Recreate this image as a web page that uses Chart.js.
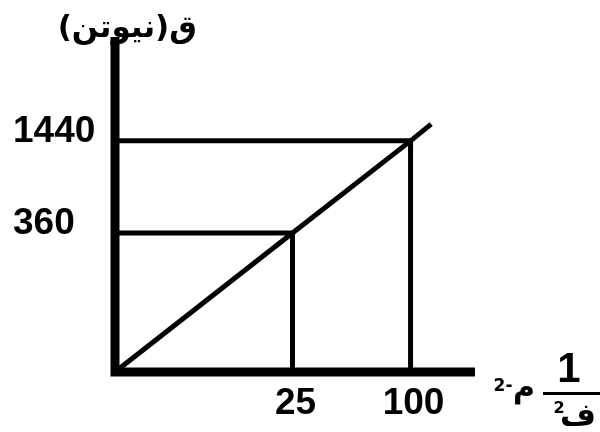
<!DOCTYPE html>
<html><head><meta charset="utf-8">
<script src="https://cdn.jsdelivr.net/npm/chart.js@4/dist/chart.umd.min.js"></script>
<style>html,body{margin:0;padding:0;background:#fff}#wrap{width:600px;height:432px}</style>
</head><body><div id="wrap"><canvas id="c" width="600" height="432"></canvas></div>
<script>
// ---- data ----
const invDistSq = [0, 25, 100, 108];      // 1/ف²  (م-2)
const force = [0, 360, 1440, 1530];       // ق (نيوتن)
const xTickValues = [25, 100];
const yTickValues = [360, 1440];
const xTickLabels = ['25', '100'];
const yTickLabels = ['360', '1440'];
const yAxisTitle = 'ق(نيوتن)';
const xUnit = 'م';
const xUnitExp = '-2';
const fracNum = '1';
const fracDen = 'ف';
const fracDenExp = '2';

// schematic (non-proportional) axes: value -> fraction of axis length
const knots = {
  x: [[0, 0], [25, 0.493], [100, 0.821], [125, 1]],
  y: [[0, 0], [360, 0.415], [1440, 0.69], [2000, 1]]
};

class SchematicScale extends Chart.LinearScale {
  static id = 'schematic';
  static defaults = Chart.LinearScale.defaults;
  _frac(v) {
    const k = knots[this.id];
    if (v <= k[0][0]) return k[0][1];
    for (let i = 1; i < k.length; i++) {
      if (v <= k[i][0]) { const a = k[i-1], b = k[i]; return a[1] + (v - a[0]) / (b[0] - a[0]) * (b[1] - a[1]); }
    }
    return k[k.length-1][1];
  }
  getPixelForValue(v) {
    if (v === null || v === undefined) return NaN;
    return this.getPixelForDecimal(this._frac(v));
  }
  getValueForPixel(p) {
    const d = this.getDecimalForPixel(p), k = knots[this.id];
    for (let i = 1; i < k.length; i++) {
      if (d <= k[i][1]) { const a = k[i-1], b = k[i]; return a[0] + (d - a[1]) / (b[1] - a[1]) * (b[0] - a[0]); }
    }
    return k[k.length-1][0];
  }
}
Chart.register(SchematicScale);

const lineData = invDistSq.map((x, i) => ({x, y: force[i]}));
const guide = (xv, yv) => [{x: 0, y: yv}, {x: xv, y: yv}, {x: xv, y: 0}];
const guideSets = xTickValues.map((xv, i) => ({
  data: guide(xv, yTickValues[i]),
  showLine: true, borderColor: '#000', borderWidth: 5, pointRadius: 0,
  borderJoinStyle: 'miter', borderCapStyle: 'butt', fill: false
}));

const tickFont = {family: '"Liberation Sans", Arial, sans-serif', size: 37, weight: 'bold'};

const decor = {
  id: 'decor',
  afterDatasetsDraw(chart) {
    const {ctx, chartArea: a} = chart;
    ctx.save();
    // axes
    ctx.strokeStyle = '#000';
    ctx.lineWidth = 9;
    ctx.lineJoin = 'miter';
    ctx.lineCap = 'butt';
    ctx.beginPath();
    ctx.moveTo(a.left, a.top);
    ctx.lineTo(a.left, a.bottom);
    ctx.lineTo(a.right, a.bottom);
    ctx.stroke();
    ctx.fillStyle = '#000';
    // y axis title
    ctx.direction = 'rtl';
    ctx.font = 'bold 31px "DejaVu Sans"';
    ctx.textAlign = 'right';
    ctx.textBaseline = 'middle';
    ctx.fillText(yAxisTitle, 197, 29);
    // x unit  م-2
    ctx.textAlign = 'center';
    ctx.textBaseline = 'alphabetic';
    ctx.font = 'bold 30px "DejaVu Sans"';
    ctx.fillText(xUnit, 524, 397);
    ctx.font = 'bold 17px "DejaVu Sans"';
    ctx.textBaseline = 'middle';
    ctx.fillText(xUnitExp, 503, 387);
    // fraction 1 / ف²
    ctx.direction = 'ltr';
    ctx.textBaseline = 'alphabetic';
    ctx.font = 'bold 42px "Liberation Sans"';
    ctx.fillText(fracNum, 569, 382);
    ctx.lineWidth = 3;
    ctx.beginPath();
    ctx.moveTo(543, 393.5);
    ctx.lineTo(600, 393.5);
    ctx.stroke();
    ctx.direction = 'rtl';
    ctx.font = 'bold 31px "DejaVu Sans"';
    ctx.fillText(fracDen, 578, 425);
    ctx.font = 'bold 16px "DejaVu Sans"';
    ctx.textBaseline = 'middle';
    ctx.fillText(fracDenExp, 559, 409);
    ctx.restore();
  }
};

new Chart(document.getElementById('c'), {
  type: 'scatter',
  data: {
    datasets: [{
      data: lineData, showLine: true, borderColor: '#000', borderWidth: 5,
      pointRadius: 0, fill: false, borderCapStyle: 'butt'
    }, ...guideSets]
  },
  options: {
    responsive: false,
    animation: false,
    layout: {padding: {top: 37, right: 125, left: 13, bottom: 0}},
    plugins: {legend: {display: false}, tooltip: {enabled: false}, title: {display: false}},
    scales: {
      x: {
        type: 'schematic', min: 0, max: 125,
        grid: {display: false}, border: {display: false},
        afterFit: s => { s.height = 60; },
        afterBuildTicks: s => { s.ticks = xTickValues.map(v => ({value: v})); },
        ticks: {
          callback: v => xTickLabels[xTickValues.indexOf(v)],
          font: tickFont, color: '#000', padding: 2, labelOffset: 3,
          maxRotation: 0, autoSkip: false
        }
      },
      y: {
        type: 'schematic', min: 0, max: 2000,
        grid: {display: false}, border: {display: false},
        afterFit: s => { s.width = 102; },
        afterBuildTicks: s => { s.ticks = yTickValues.map(v => ({value: v})); },
        ticks: {
          callback: v => yTickLabels[yTickValues.indexOf(v)],
          font: tickFont, color: '#000', padding: 9, labelOffset: -9,
          crossAlign: 'far', autoSkip: false
        }
      }
    }
  },
  plugins: [decor]
});
</script>
</body></html>
